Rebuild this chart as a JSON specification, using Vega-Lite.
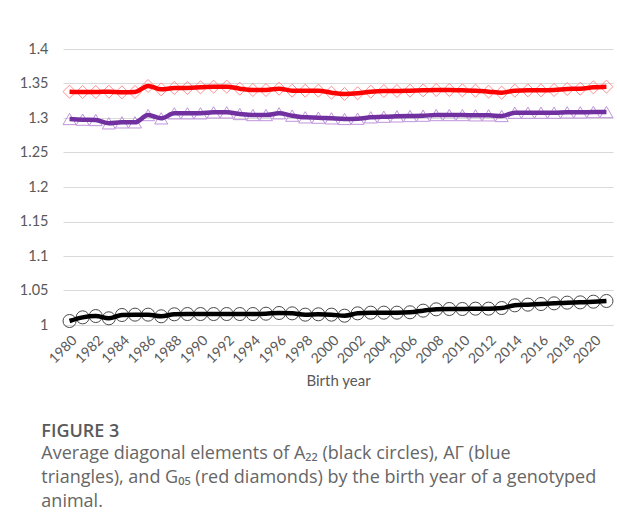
{
"$schema": "https://vega.github.io/schema/vega-lite/v6.json",
"width": 550, "height": 276,
"autosize": {"type": "none"},
"padding": {"left": 63, "top": 49, "right": 4, "bottom": 205},
"background": "white",
"config": {"view": {"stroke": null}, "font": "Lato"},
"title": {
  "text": "FIGURE 3",
  "subtitle": ["Average diagonal elements of A₂₂ (black circles), AΓ (blue", "triangles), and G₀₅ (red diamonds) by the birth year of a genotyped", "animal."],
  "orient": "bottom", "anchor": "start", "dx": 22, "offset": 34,
  "font": "Open Sans", "fontSize": 18, "fontWeight": 600, "color": "#5a5a5a",
  "subtitleFont": "Open Sans", "subtitleFontSize": 18, "subtitleColor": "#666666",
  "subtitleLineHeight": 24, "subtitlePadding": 4
},
"data": {"values": [
{"year":1980,"A22":1.0058,"AGamma":1.2986,"G05":1.3382},
{"year":1981,"A22":1.0111,"AGamma":1.2976,"G05":1.3377},
{"year":1982,"A22":1.0130,"AGamma":1.2971,"G05":1.3377},
{"year":1983,"A22":1.0097,"AGamma":1.2923,"G05":1.3382},
{"year":1984,"A22":1.0145,"AGamma":1.2937,"G05":1.3372},
{"year":1985,"A22":1.0150,"AGamma":1.2937,"G05":1.3377},
{"year":1986,"A22":1.0150,"AGamma":1.3043,"G05":1.3464},
{"year":1987,"A22":1.0126,"AGamma":1.2995,"G05":1.3415},
{"year":1988,"A22":1.0155,"AGamma":1.3068,"G05":1.3435},
{"year":1989,"A22":1.0159,"AGamma":1.3068,"G05":1.3435},
{"year":1990,"A22":1.0159,"AGamma":1.3068,"G05":1.3444},
{"year":1991,"A22":1.0159,"AGamma":1.3082,"G05":1.3454},
{"year":1992,"A22":1.0159,"AGamma":1.3082,"G05":1.3454},
{"year":1993,"A22":1.0159,"AGamma":1.3058,"G05":1.3425},
{"year":1994,"A22":1.0159,"AGamma":1.3043,"G05":1.3406},
{"year":1995,"A22":1.0164,"AGamma":1.3043,"G05":1.3406},
{"year":1996,"A22":1.0174,"AGamma":1.3068,"G05":1.3425},
{"year":1997,"A22":1.0169,"AGamma":1.3034,"G05":1.3396},
{"year":1998,"A22":1.0150,"AGamma":1.3010,"G05":1.3396},
{"year":1999,"A22":1.0155,"AGamma":1.3005,"G05":1.3396},
{"year":2000,"A22":1.0150,"AGamma":1.2995,"G05":1.3367},
{"year":2001,"A22":1.0135,"AGamma":1.2986,"G05":1.3348},
{"year":2002,"A22":1.0169,"AGamma":1.2990,"G05":1.3358},
{"year":2003,"A22":1.0179,"AGamma":1.3010,"G05":1.3382},
{"year":2004,"A22":1.0179,"AGamma":1.3019,"G05":1.3391},
{"year":2005,"A22":1.0179,"AGamma":1.3024,"G05":1.3391},
{"year":2006,"A22":1.0184,"AGamma":1.3029,"G05":1.3396},
{"year":2007,"A22":1.0208,"AGamma":1.3034,"G05":1.3401},
{"year":2008,"A22":1.0227,"AGamma":1.3043,"G05":1.3406},
{"year":2009,"A22":1.0232,"AGamma":1.3043,"G05":1.3406},
{"year":2010,"A22":1.0232,"AGamma":1.3043,"G05":1.3401},
{"year":2011,"A22":1.0237,"AGamma":1.3039,"G05":1.3396},
{"year":2012,"A22":1.0237,"AGamma":1.3039,"G05":1.3382},
{"year":2013,"A22":1.0246,"AGamma":1.3029,"G05":1.3367},
{"year":2014,"A22":1.0285,"AGamma":1.3077,"G05":1.3396},
{"year":2015,"A22":1.0295,"AGamma":1.3077,"G05":1.3401},
{"year":2016,"A22":1.0304,"AGamma":1.3077,"G05":1.3401},
{"year":2017,"A22":1.0314,"AGamma":1.3077,"G05":1.3406},
{"year":2018,"A22":1.0324,"AGamma":1.3082,"G05":1.3420},
{"year":2019,"A22":1.0328,"AGamma":1.3082,"G05":1.3425},
{"year":2020,"A22":1.0338,"AGamma":1.3087,"G05":1.3444},
{"year":2021,"A22":1.0348,"AGamma":1.3087,"G05":1.3454}
]},
"transform": [{"fold": ["A22", "AGamma", "G05"], "as": ["series", "value"]}],
"encoding": {
  "x": {"field": "year", "type": "ordinal", "scale": {"type": "point", "padding": 0.5},
    "axis": {"values": [1980,1982,1984,1986,1988,1990,1992,1994,1996,1998,2000,2002,2004,2006,2008,2010,2012,2014,2016,2018,2020],
      "labelAngle": -45, "title": "Birth year", "titleFontSize": 15, "titleFontWeight": "normal", "titleColor": "#595959", "titleFont": "Lato",
      "labelFont": "Lato", "labelFontSize": 14, "labelColor": "#595959", "ticks": false, "domainColor": "#d9d9d9", "grid": false,
      "labelPadding": 8, "titlePadding": 8, "labelOverlap": false}},
  "y": {"field": "value", "type": "quantitative", "scale": {"domain": [1, 1.4]},
    "axis": {"values": [1,1.05,1.1,1.15,1.2,1.25,1.3,1.35,1.4], "format": ".2~f", "title": null, "domain": false, "ticks": false,
      "labelPadding": 15, "labelFont": "Lato", "labelFontSize": 14.5, "labelColor": "#595959", "gridColor": "#d9d9d9", "labelOverlap": false}}
},
"layer": [
  {"mark": {"type": "point", "filled": false, "strokeWidth": 1, "opacity": 1, "size": 170},
   "encoding": {
     "shape": {"field": "series", "type": "nominal", "scale": {"domain": ["A22", "AGamma", "G05"], "range": ["circle", "triangle-up", "diamond"]}, "legend": null},
     "stroke": {"field": "series", "type": "nominal", "scale": {"domain": ["A22", "AGamma", "G05"], "range": ["#4a4a4a", "#bf94dc", "#ff8f8f"]}, "legend": null}}},
  {"mark": {"type": "line", "strokeWidth": 4.5, "interpolate": "monotone"},
   "encoding": {
     "color": {"field": "series", "type": "nominal", "scale": {"domain": ["A22", "AGamma", "G05"], "range": ["#000000", "#7030a0", "#ff0000"]}, "legend": null}}}
]
}
